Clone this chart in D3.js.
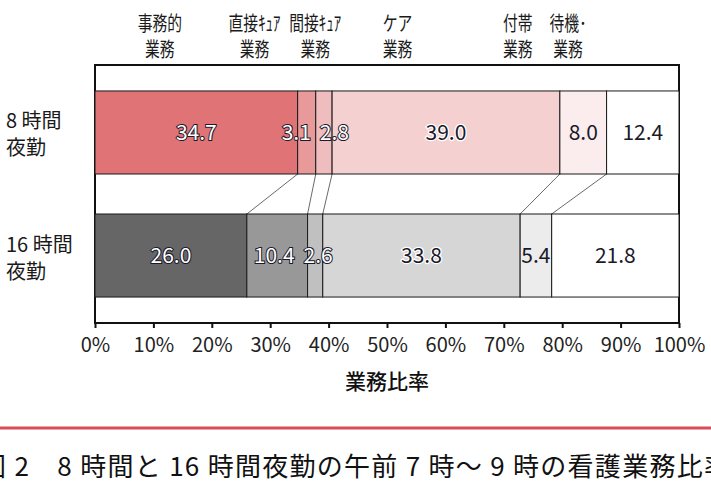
<!DOCTYPE html>
<html><head><meta charset="utf-8">
<script src="https://cdn.jsdelivr.net/npm/d3@7"></script>
<style>
body{margin:0;background:#fff}
svg{display:block}
text{font-family:"Noto Sans CJK JP","Noto Sans",sans-serif}
</style>
</head><body>
<svg id="c" width="711" height="486"></svg>
<script>
// ---- data ----
const rows = ["8時間夜勤", "16時間夜勤"];
const rowLabelLines = [["8 時間", "夜勤"], ["16 時間", "夜勤"]];
const categories = ["事務的業務", "直接ケア業務", "間接ケア業務", "ケア業務", "付帯業務", "待機・業務"];
const categoryLabelLines = [["事務的", "業務"], ["直接ｷｭｱ", "業務"], ["間接ｷｭｱ", "業務"], ["ケア", "業務"], ["付帯", "業務"], ["待機･", "業務"]];
const values8h = [34.7, 3.1, 2.8, 39.0, 8.0, 12.4];
const values16h = [26.0, 10.4, 2.6, 33.8, 5.4, 21.8];
const tickValues = [0, 10, 20, 30, 40, 50, 60, 70, 80, 90, 100];
const colors8h = ["#df7375", "#e8999a", "#f0bdbe", "#f5d0d1", "#fbeded", "#ffffff"];
const colors16h = ["#666666", "#989898", "#c0c0c0", "#d6d6d6", "#ececec", "#ffffff"];
const axisTitle = "業務比率";
const caption = "図 2　8 時間と 16 時間夜勤の午前 7 時～ 9 時の看護業務比率";

// ---- layout constants ----
const headerAnchorPct = [11.1, 27.3, 37.7, 51.8, 72.4, 81.0];
const labelStyle = ["halo", "halo", "halo", "inv", "plain", "plain"];

const svg = d3.select("#c");
const x = d3.scaleLinear().domain([0, 100]).range([95, 679]);
const y = d3.scaleBand().domain(rows).range([65, 323]).paddingInner(0.325).paddingOuter(0.211);

const series = [values8h, values16h];
const palette = [colors8h, colors16h];

function stackRow(vals) {
  let acc = 0;
  return vals.map(v => { const s = acc; acc += v; return [s, acc, v]; });
}
const stacked = series.map(stackRow);

// frame
svg.append("rect").attr("x", x(0)).attr("y", 65).attr("width", x(100) - x(0)).attr("height", 323 - 65)
  .attr("fill", "none").attr("stroke", "#111").attr("stroke-width", 2);

// connecting lines
const r0 = stacked[0], r1 = stacked[1];
for (let i = 0; i < r0.length - 1; i++) {
  svg.append("line")
    .attr("x1", x(r0[i][1])).attr("y1", y(rows[0]) + y.bandwidth())
    .attr("x2", x(r1[i][1])).attr("y2", y(rows[1]))
    .attr("stroke", "#444").attr("stroke-width", 0.8);
}

// bars
stacked.forEach((segs, ri) => {
  const g = svg.append("g");
  g.selectAll("rect").data(segs).join("rect")
    .attr("x", d => x(d[0])).attr("y", y(rows[ri]))
    .attr("width", d => x(d[1]) - x(d[0])).attr("height", y.bandwidth())
    .attr("fill", (d, i) => palette[ri][i])
    .attr("stroke", "#1a1a1a").attr("stroke-width", 1);
});

// bar labels
stacked.forEach((segs, ri) => {
  const cy = y(rows[ri]) + y.bandwidth() / 2;
  const g = svg.append("g");
  const texts = g.selectAll("text").data(segs).join("text")
    .attr("x", d => x((d[0] + d[1]) / 2)).attr("y", cy).attr("dy", "0.36em")
    .attr("text-anchor", "middle").attr("font-size", 21)
    .attr("paint-order", "stroke")
    .each(function (d, i) {
      const t = d3.select(this);
      const st = labelStyle[i];
      if (st === "halo") t.attr("fill", "#ffffff").attr("stroke", "#1a1a2a").attr("stroke-width", 2);
      else if (st === "inv") t.attr("fill", "#1a1a2a").attr("stroke", "#ffffff").attr("stroke-width", 2.5);
      else t.attr("fill", "#1a1a2a");
    })
    .text(d => d[2].toFixed(1));
  const nodes = texts.nodes();
  const info = nodes.map(n => ({ n, cx: +n.getAttribute("x"), w: n.getComputedTextLength() }));
  const gap = 9;
  for (let k = 0; k < 5; k++) {
    for (let i = 0; i < info.length - 1; i++) {
      const a = info[i], b = info[i + 1];
      const ov = (a.cx + a.w / 2 + gap) - (b.cx - b.w / 2);
      if (ov > 0) { a.cx -= ov / 2; b.cx += ov / 2; }
    }
  }
  info.forEach(o => o.n.setAttribute("x", o.cx));
});

// row labels
rows.forEach((r, ri) => {
  const cy = y(r) + y.bandwidth() / 2;
  rowLabelLines[ri].forEach((line, li) => {
    svg.append("text").attr("x", 6).attr("y", cy - 4 + li * 27)
      .attr("font-size", 20).attr("fill", "#1a1a1a").text(line);
  });
});

// header labels
categoryLabelLines.forEach((lines, i) => {
  lines.forEach((line, li) => {
    svg.append("text")
      .attr("transform", `translate(${x(headerAnchorPct[i])},${31 + li * 26}) scale(0.74,1)`)
      .attr("text-anchor", "middle").attr("font-size", 20).attr("fill", "#1a1a1a")
      .text(line);
  });
});

// axis
const ax = svg.append("g").attr("transform", "translate(0,323)")
  .call(d3.axisBottom(x).tickValues(tickValues).tickSize(5).tickPadding(10).tickFormat(d => d + "%"));
ax.select(".domain").remove();
ax.selectAll(".tick line").attr("stroke", "#111").attr("stroke-width", 2);
ax.selectAll(".tick text").attr("font-size", 20).attr("fill", "#222")
  .attr("font-family", "\"Noto Sans CJK JP\",\"Noto Sans\",sans-serif");

svg.append("text").attr("x", x(50)).attr("y", 389).attr("text-anchor", "middle")
  .attr("font-size", 21).attr("font-weight", 500).attr("fill", "#111").text(axisTitle);

// separator and caption
svg.append("line").attr("x1", 0).attr("x2", 711).attr("y1", 428).attr("y2", 428)
  .attr("stroke", "#d64f58").attr("stroke-width", 3);
svg.append("text").attr("x", -20).attr("y", 476).attr("font-size", 26).attr("fill", "#111")
  .attr("textLength", 750).attr("lengthAdjust", "spacing")
  .text(caption);
</script>
</body></html>
